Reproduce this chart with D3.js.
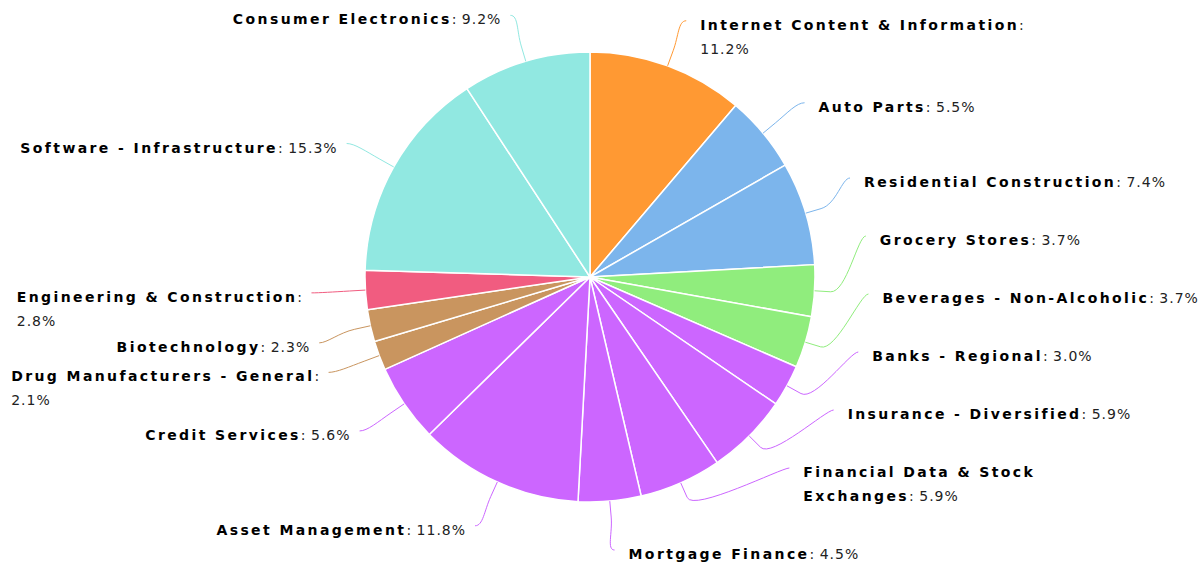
<!DOCTYPE html>
<html>
<head>
<meta charset="utf-8">
<script src="https://cdn.jsdelivr.net/npm/d3@7"></script>
<style>
  html, body { margin: 0; padding: 0; background: #fff; overflow: hidden; }
  svg { display: block; }
</style>
</head>
<body>
<svg id="chart" width="1200" height="564"></svg>
<script>
// ---- data ----
const categories = [
  "Internet Content & Information",
  "Auto Parts",
  "Residential Construction",
  "Grocery Stores",
  "Beverages - Non-Alcoholic",
  "Banks - Regional",
  "Insurance - Diversified",
  "Financial Data & Stock Exchanges",
  "Mortgage Finance",
  "Asset Management",
  "Credit Services",
  "Drug Manufacturers - General",
  "Biotechnology",
  "Engineering & Construction",
  "Software - Infrastructure",
  "Consumer Electronics"
];
const values = [11.2, 5.5, 7.4, 3.7, 3.7, 3.0, 5.9, 5.9, 4.5, 11.8, 5.6, 2.1, 2.3, 2.8, 15.3, 9.2];
const sectors = [
  "Communication Services",
  "Consumer Cyclical", "Consumer Cyclical",
  "Consumer Defensive", "Consumer Defensive",
  "Financial Services", "Financial Services", "Financial Services",
  "Financial Services", "Financial Services", "Financial Services",
  "Healthcare", "Healthcare",
  "Industrials",
  "Technology", "Technology"
];
const sectorNames = ["Communication Services", "Consumer Cyclical", "Consumer Defensive",
  "Financial Services", "Healthcare", "Industrials", "Technology"];
const sectorColors = ["#FF9933", "#7CB5EC", "#90ED7D", "#CC66FF", "#C9955F", "#F15C80", "#91E8E1"];
// how long labels wrap: "colon" = value on second line, number = words on first line
const labelBreaks = {
  "Internet Content & Information": "colon",
  "Financial Data & Stock Exchanges": 4,
  "Engineering & Construction": "colon",
  "Drug Manufacturers - General": "colon"
};

// ---- layout ----
const W = 1200, H = 564;
const cx = 590, cy = 277, r = 225;
const labelRx = 279, labelRy = 273;   // where connectors end
const breakD = 16;       // straight part of connector beyond slice edge
const lineH = 24;

const svg = d3.select("#chart");
const color = d3.scaleOrdinal().domain(sectorNames).range(sectorColors);

const data = categories.map((c, i) => ({ name: c, value: values[i], sector: sectors[i] }));
const pie = d3.pie().sort(null).value(d => d.value);
const arcs = pie(data);
const arcGen = d3.arc().innerRadius(0).outerRadius(r);

const g = svg.append("g").attr("transform", `translate(${cx},${cy})`);
g.selectAll("path.slice").data(arcs).join("path")
  .attr("class", "slice")
  .attr("d", arcGen)
  .attr("fill", d => color(d.data.sector))
  .attr("stroke", "#fff")
  .attr("stroke-width", 1.5)
  .attr("stroke-linejoin", "round");

// label lines
function lineSegments(d) {
  const name = d.data.name;
  const val = d3.format(".1f")(d.data.value) + "%";
  const br = labelBreaks[name];
  if (br === "colon") {
    return [[{ t: name, b: true }, { t: ":", b: false }], [{ t: val, b: false, v: true }]];
  } else if (typeof br === "number") {
    const words = name.split(" ");
    return [[{ t: words.slice(0, br).join(" "), b: true }],
            [{ t: words.slice(br).join(" "), b: true }, { t: ": ", b: false }, { t: val, b: false, v: true }]];
  }
  return [[{ t: name, b: true }, { t: ": ", b: false }, { t: val, b: false, v: true }]];
}

const labels = arcs.map(d => {
  const mid = (d.startAngle + d.endAngle) / 2;
  const nx = labelRx * Math.sin(mid), ny = -labelRy * Math.cos(mid);
  return { d, mid, right: mid < Math.PI, nx, ny, y: ny, lines: lineSegments(d) };
});

const minY = 5 - cy, maxY = H - 14 - cy;
function distribute(list, gapFn) {
  list.sort((a, b) => a.ny - b.ny);
  // top-down
  for (let i = 0; i < list.length; i++) {
    if (i === 0) list[i].y = Math.max(list[i].y, minY);
    else list[i].y = Math.max(list[i].y, list[i - 1].y + gapFn(list[i - 1]));
  }
  // bottom-up
  for (let i = list.length - 1; i >= 0; i--) {
    if (i === list.length - 1) list[i].y = Math.min(list[i].y, maxY);
    else list[i].y = Math.min(list[i].y, list[i + 1].y - gapFn(list[i]));
  }
}
distribute(labels.filter(l => l.right), l => 58 + (l.lines.length - 1) * lineH);
distribute(labels.filter(l => !l.right), l => 25 * l.lines.length);

labels.forEach(l => {
  if (Math.abs(l.y - l.ny) < 4) l.x = l.nx;
  else {
    const k = Math.max(1 - (l.y / labelRy) * (l.y / labelRy), 0);
    const dx = labelRx * Math.sqrt(k);
    l.x = l.right ? dx : -dx;
  }
});

// connectors
const conn = g.append("g");
labels.forEach(l => {
  const sx = Math.sin(l.mid), sy = -Math.cos(l.mid);
  const tx = r * sx, ty = r * sy;
  const bx = (r + breakD) * sx, by = (r + breakD) * sy;
  const side = l.right ? 1 : -1;
  const p = d3.path();
  p.moveTo(l.x, l.y);
  p.bezierCurveTo(l.x - side * 8, l.y, 2 * bx - tx, 2 * by - ty, bx, by);
  p.lineTo(tx, ty);
  conn.append("path")
    .attr("d", p.toString())
    .attr("fill", "none")
    .attr("stroke", color(l.d.data.sector))
    .attr("stroke-width", 1);
});

// texts
const tg = g.append("g").attr("font-family", "'DejaVu Sans', sans-serif").attr("font-size", 14);
labels.forEach(l => {
  const texts = l.lines.map((segs, li) => {
    const t = tg.append("text")
      .attr("x", 0)
      .attr("y", l.y + 9 + li * lineH)
      .attr("fill", "#000");
    segs.forEach(s => {
      t.append("tspan")
        .attr("font-weight", s.b ? "bold" : "normal")
        .attr("letter-spacing", s.b ? 2.4 : (s.v ? 1 : 0.5))
        .attr("fill", s.b ? "#000" : "#222")
        .text(s.t);
    });
    return t;
  });
  const widths = texts.map(t => t.node().getBBox().width);
  const boxW = d3.max(widths);
  const x0 = l.right ? l.x + 14 : l.x - 9 - boxW;
  texts.forEach(t => t.attr("x", x0));
});
</script>
</body>
</html>
